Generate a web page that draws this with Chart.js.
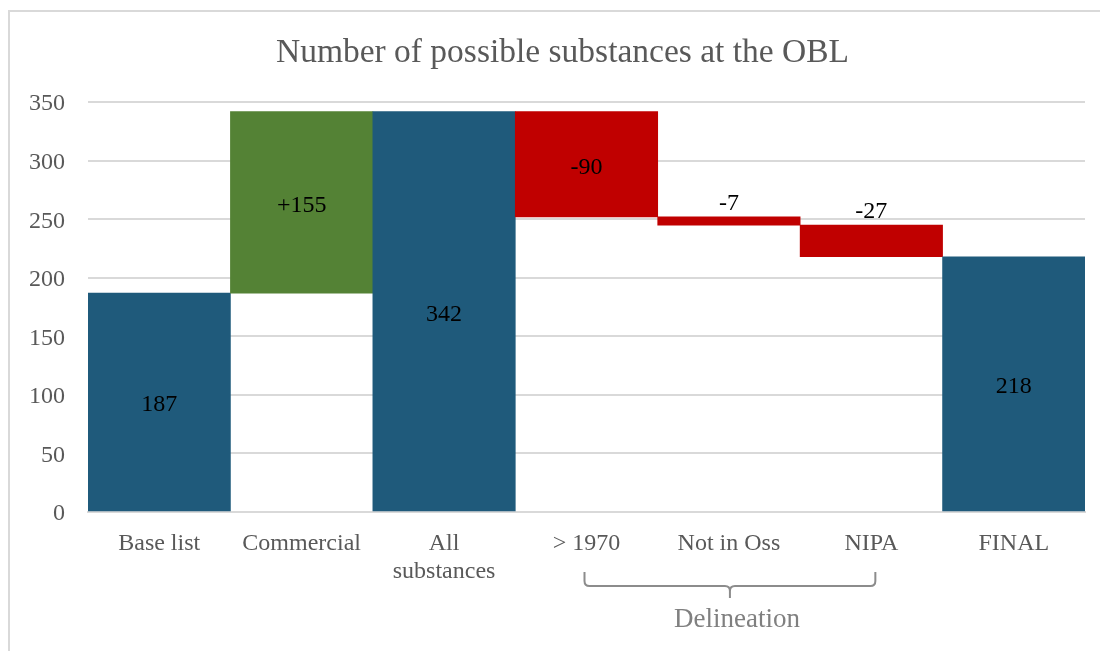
<!DOCTYPE html>
<html>
<head>
<meta charset="utf-8">
<script src="https://cdn.jsdelivr.net/npm/chart.js@4.4.1/dist/chart.umd.min.js"></script>
<style>
    html, body { margin: 0; padding: 0; background: #fff; overflow: hidden; }
    .frame {
        position: absolute; left: 8px; top: 10px; width: 1200px; height: 700px;
        border-left: 2px solid #d9d9d9; border-top: 2px solid #d9d9d9;
    }
    #wf { position: absolute; left: 0; top: 0; }
</style>
</head>
<body>
<div class="frame"></div>
<canvas id="wf" width="1100" height="651"></canvas>
<script>
// Waterfall: totals start at zero, changes float on the running total
const categories = ['Base list', 'Commercial', ['All', 'substances'], '> 1970', 'Not in Oss', 'NIPA', 'FINAL'];
const steps = [187, 155, 342, -90, -7, -27, 218];
const stepKinds = ['total', 'up', 'total', 'down', 'down', 'down', 'total'];
const yMin = 0, yMax = 350, yStep = 50;

const kindColors = { total: '#1f5a7b', up: '#548235', down: '#c00000' };

let running = 0;
const floats = steps.map((v, i) => {
    if (stepKinds[i] === 'total') {
        running = v;
        return [0, v];
    }
    const from = running;
    running += v;
    return [from, running];
});
const labels = steps.map((v, i) => stepKinds[i] === 'up' ? '+' + v : String(v));

const FONT = "'Liberation Serif', 'DejaVu Serif', serif";
Chart.defaults.font.family = FONT;

// value labels: inside the bar when it is tall enough, otherwise just above it
const barLabels = {
    id: 'barLabels',
    afterDatasetsDraw(chart) {
        const ctx = chart.ctx;
        const meta = chart.getDatasetMeta(0);
        ctx.save();
        ctx.fillStyle = '#000';
        ctx.font = '24px ' + FONT;
        ctx.textAlign = 'center';
        meta.data.forEach((bar, i) => {
            const p = bar.getProps(['x', 'y', 'base'], true);
            const top = Math.min(p.y, p.base), bottom = Math.max(p.y, p.base);
            if (bottom - top < 40) {
                ctx.textBaseline = 'alphabetic';
                ctx.fillText(labels[i], p.x, top - 7);
            } else {
                ctx.textBaseline = 'middle';
                ctx.fillText(labels[i], p.x, (top + bottom) / 2 + 3);
            }
        });
        ctx.restore();
    }
};

// nudge the title block so it centres a little right of the canvas middle
const titleShift = {
    id: 'titleShift',
    afterLayout(chart) {
        if (chart.titleBlock) chart.titleBlock.left += 40;
    }
};

// brace under the three delineation steps
const delineation = {
    id: 'delineation',
    afterDraw(chart) {
        const ctx = chart.ctx;
        const xs = chart.scales.x;
        const y0 = chart.chartArea.bottom;
        const left = xs.getPixelForValue(3) - 2;
        const right = xs.getPixelForValue(5) + 4;
        const mid = (left + right) / 2;
        const yTop = y0 + 60, yLine = y0 + 74, yTip = y0 + 86, r = 5;
        ctx.save();
        ctx.strokeStyle = '#8c8c8c';
        ctx.lineWidth = 2;
        ctx.beginPath();
        ctx.moveTo(left, yTop);
        ctx.lineTo(left, yLine - r);
        ctx.quadraticCurveTo(left, yLine, left + r, yLine);
        ctx.lineTo(mid - r, yLine);
        ctx.quadraticCurveTo(mid, yLine, mid, yLine + r);
        ctx.lineTo(mid, yTip);
        ctx.moveTo(mid, yLine + r);
        ctx.quadraticCurveTo(mid, yLine, mid + r, yLine);
        ctx.lineTo(right - r, yLine);
        ctx.quadraticCurveTo(right, yLine, right, yLine - r);
        ctx.lineTo(right, yTop);
        ctx.stroke();
        ctx.fillStyle = '#808080';
        ctx.font = '27px ' + FONT;
        ctx.textAlign = 'center';
        ctx.textBaseline = 'middle';
        ctx.fillText('Delineation', mid + 7, y0 + 108);
        ctx.restore();
    }
};

new Chart(document.getElementById('wf'), {
    type: 'bar',
    data: {
        labels: categories,
        datasets: [{
            data: floats,
            backgroundColor: stepKinds.map(k => kindColors[k]),
            borderWidth: 0,
            barPercentage: 1,
            categoryPercentage: 1
        }]
    },
    options: {
        responsive: false,
        animation: false,
        devicePixelRatio: 1,
        layout: { padding: { left: 0, right: 15, top: 0, bottom: 0 } },
        plugins: {
            legend: { display: false },
            tooltip: { enabled: false },
            title: {
                display: true,
                text: 'Number of possible substances at the OBL',
                color: '#595959',
                font: { size: 33.5, weight: 'normal', family: FONT },
                padding: { top: 33, bottom: 29 }
            }
        },
        scales: {
            x: {
                grid: { display: false },
                border: { display: true, color: '#d9d9d9', width: 2 },
                ticks: {
                    color: '#595959',
                    font: { size: 24 },
                    padding: 9,
                    maxRotation: 0,
                    autoSkip: false
                },
                afterFit(scale) { scale.height = 139; }
            },
            y: {
                min: yMin,
                max: yMax,
                grid: { color: '#d9d9d9', lineWidth: 2, drawTicks: false },
                border: { display: false },
                ticks: {
                    stepSize: yStep,
                    color: '#595959',
                    font: { size: 24 },
                    padding: 23,
                    labelOffset: 2
                },
                afterFit(scale) { scale.width = 88; }
            }
        }
    },
    plugins: [barLabels, titleShift, delineation]
});
</script>
</body>
</html>
